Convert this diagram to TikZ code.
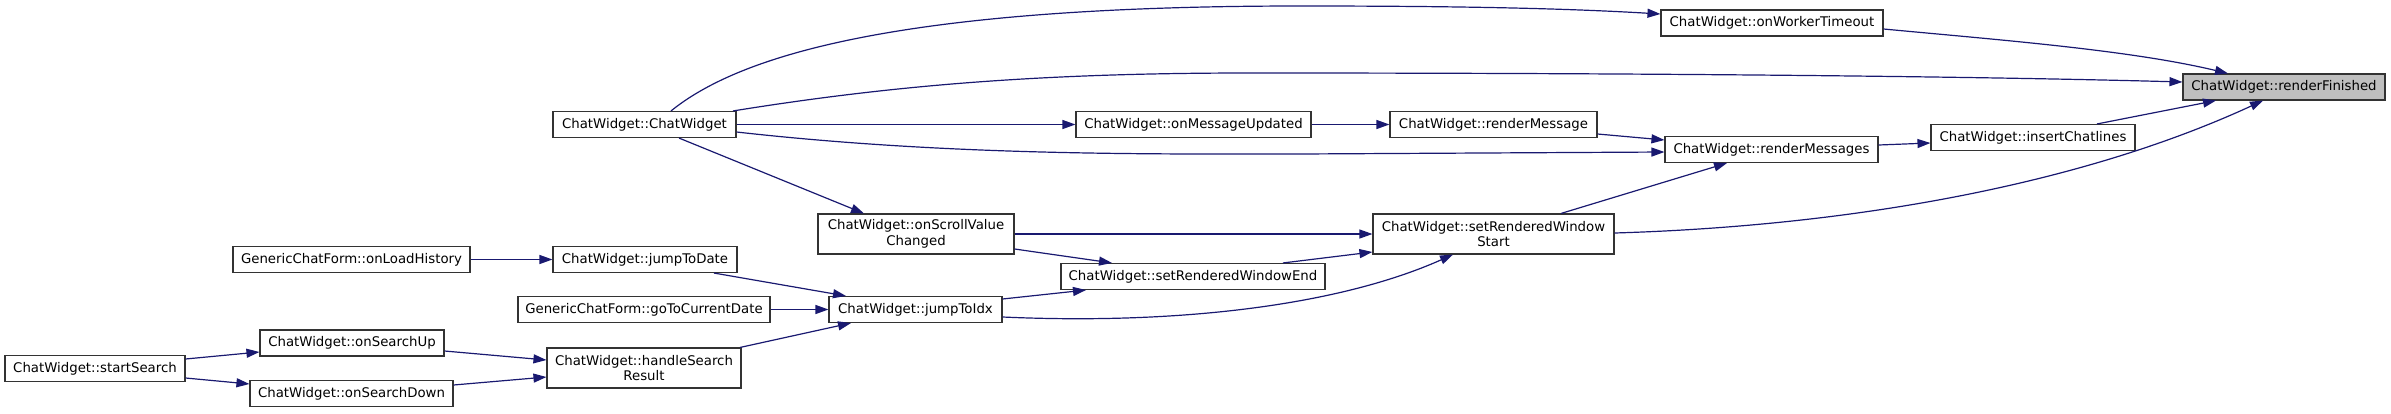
\documentclass[tikz,border=0pt]{standalone}
\usepackage{fontspec}
\setmainfont{DejaVu Sans}
\usepackage{tikz}
\usetikzlibrary{arrows.meta,positioning}

\begin{document}
\begin{tikzpicture}[
    x=1pt, y=-1pt,
    func/.style={rectangle, draw=black!80, line width=1.1pt, fill=white, inner sep=0pt,
        minimum height=26pt, align=center, font=\fontsize{13.3}{15.5}\selectfont},
    tall/.style={minimum height=40pt},
    call/.style={-{Triangle[length=13pt,width=9pt]}, line width=1.2pt, draw={rgb,255:red,25;green,25;blue,112}}
]
    \useasboundingbox (0,0) rectangle (2391,413);

    % callee and its callers
    \node[func, fill=black!25, minimum width=202pt] (fin) at (2284,87) {ChatWidget::renderFinished};
    \node[func, minimum width=222pt] (timeout) at (1772,23) {ChatWidget::onWorkerTimeout};
    \node[func, minimum width=204pt] (insert) at (2033,137.5) {ChatWidget::insertChatlines};
    \node[func, minimum width=213pt] (msgs) at (1771.5,149.5) {ChatWidget::renderMessages};
    \node[func, minimum width=207pt] (msg) at (1493.5,124.5) {ChatWidget::renderMessage};
    \node[func, minimum width=235pt] (updated) at (1193.5,124.5) {ChatWidget::onMessageUpdated};
    \node[func, minimum width=183pt] (ctor) at (644.5,124.5) {ChatWidget::ChatWidget};
    \node[func, tall, minimum width=241pt] (wstart) at (1493.5,234) {ChatWidget::setRenderedWindow\\Start};
    \node[func, tall, minimum width=196pt] (scroll) at (916,234) {ChatWidget::onScrollValue\\Changed};
    \node[func, minimum width=264pt] (wend) at (1193,276.5) {ChatWidget::setRenderedWindowEnd};
    \node[func, minimum width=184pt] (todate) at (645,259.5) {ChatWidget::jumpToDate};
    \node[func, minimum width=237pt] (history) at (351.5,259.5) {GenericChatForm::onLoadHistory};
    \node[func, minimum width=252pt] (curdate) at (644,309.5) {GenericChatForm::goToCurrentDate};
    \node[func, minimum width=173pt] (toidx) at (915.5,309.5) {ChatWidget::jumpToIdx};
    \node[func, tall, minimum width=194pt] (result) at (644,368) {ChatWidget::handleSearch\\Result};
    \node[func, minimum width=184pt] (up) at (352,343) {ChatWidget::onSearchUp};
    \node[func, minimum width=180pt] (search) at (95,368.5) {ChatWidget::startSearch};
    \node[func, minimum width=203pt] (down) at (351.5,393.5) {ChatWidget::onSearchDown};

    % calls into renderFinished
    \draw[call] (timeout.east |- 0,29) .. controls (2000,40) and (2130,50) .. (fin.north -| 2228,0);
    \draw[call] (ctor.north -| 733,0) .. controls (900,84) and (1050,73) .. (1250,73)
        .. controls (1700,73) and (2000,77) .. (fin.west |- 0,82);
    \draw[call] (insert.north -| 2097,0) -- (fin.south -| 2216,0);
    \draw[call] (wstart.east |- 0,233) .. controls (1850,226) and (2080,185) .. (fin.south -| 2263,0);

    % from the constructor
    \draw[call] (ctor.north -| 671,0) .. controls (740,55) and (900,6) .. (1300,6)
        .. controls (1450,6) and (1560,8) .. (timeout.west |- 0,14);
    \draw[call] (ctor) -- (updated);
    \draw[call] (updated) -- (msg);
    \draw[call] (ctor.east |- 0,132) .. controls (950,156) and (1150,154) .. (1300,154)
        -- (msgs.west |- 0,152);
    \draw[call] (ctor.south -| 679,0) -- (scroll.north -| 864,0);

    % rendering chain
    \draw[call] (msg.east |- 0,134) -- (msgs.west |- 0,140);
    \draw[call] (msgs.east |- 0,145) -- (insert.west |- 0,143);
    \draw[call] (wstart.north -| 1561,0) -- (msgs.south -| 1727,0);
    \draw[call] (scroll) -- (wstart);
    \draw[call] (scroll.east |- 0,249) -- (wend.north -| 1112,0);
    \draw[call] (wend.north -| 1283,0) -- (wstart.west |- 0,252);
    \draw[call] (toidx.east |- 0,299) -- (wend.south -| 1086,0);
    \draw[call] (toidx.east |- 0,317) .. controls (1180,325) and (1340,305) .. (wstart.south -| 1453,0);

    % jumping and searching
    \draw[call] (history) -- (todate);
    \draw[call] (todate.south -| 714,0) -- (toidx.north -| 846,0);
    \draw[call] (curdate) -- (toidx);
    \draw[call] (result.north -| 740,0) -- (toidx.south -| 851,0);
    \draw[call] (up.east |- 0,351) -- (result.west |- 0,360);
    \draw[call] (down.east |- 0,385) -- (result.west |- 0,377);
    \draw[call] (search.east |- 0,359) -- (up.west |- 0,352);
    \draw[call] (search.east |- 0,378) -- (down.west |- 0,384);
\end{tikzpicture}
\end{document}
